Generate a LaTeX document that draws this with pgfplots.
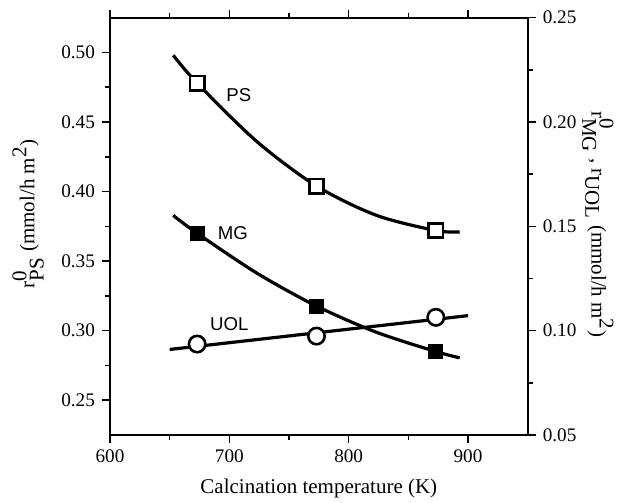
\documentclass[border=0pt]{standalone}
\usepackage{fontspec}
\setmainfont{Liberation Serif}
\newfontfamily\arialfont{Liberation Sans}
\usepackage{pgfplots}
\pgfplotsset{compat=1.18}

% measured points (K, rate)
\pgfplotstableread{
T    r
673  0.478
773  0.404
873  0.372
}\psdata
\pgfplotstableread{
T    r
653  0.498
673  0.478
723  0.436
773  0.404
823  0.383
873  0.372
893  0.371
}\pscurve
\pgfplotstableread{
T    r
673  0.1467
773  0.1118
873  0.0900
}\mgdata
\pgfplotstableread{
T    r
653  0.1552
673  0.1467
723  0.1276
773  0.1118
823  0.0993
873  0.0900
893  0.0870
}\mgcurve
\pgfplotstableread{
T    r
673  0.0936
773  0.0974
873  0.1064
}\uoldata
\pgfplotstableread{
T    r
650  0.0910
900  0.1072
}\uolcurve

\pgfplotsset{
  common/.style={
    scale only axis, width=208.85pt, height=208.65pt,
    xmin=600, xmax=950,
    tick align=outside,
    major tick length=4pt, minor tick length=2.5pt,
    every tick/.style={black, line width=0.8pt},
    axis line style={line width=1pt},
    /pgf/number format/assume math mode=true,
    ticklabel style={font=\fontsize{9.6}{11}\selectfont},
    label style={font=\fontsize{10.5}{12}\selectfont},
    yticklabel style={/pgf/number format/fixed, /pgf/number format/fixed zerofill, /pgf/number format/precision=2},
  },
}

\begin{document}
\begin{tikzpicture}
\begin{axis}[common,
  ymin=0.225, ymax=0.525,
  axis y line*=left,
  xtick={600,700,800,900}, minor x tick num=1,
  xtick pos=both,
  ytick={0.25,0.30,...,0.50}, minor y tick num=1,
  xlabel={Calcination temperature (K)},
  xlabel style={at={(axis description cs:0.5,-0.127)}, anchor=center},
  ylabel={r$^{\textrm{0}}_{\textrm{PS}}$ (mmol/h m$^{\textrm{2}}$)},
  ylabel style={at={(axis description cs:-0.196,0.53)}, anchor=center},
]
\addplot[black, line width=1.6pt, smooth, no marks] table[x=T,y=r] {\pscurve};
\addplot[only marks, mark=square*, mark size=3.6pt, mark options={fill=white, draw=black, line width=1.3pt}] table[x=T,y=r] {\psdata};
\node[font=\arialfont\fontsize{9.3}{11}\selectfont] at (axis cs:708,0.469) {PS};
\node[font=\arialfont\fontsize{9.3}{11}\selectfont] at (axis cs:703,0.3705) {MG};
\node[font=\arialfont\fontsize{9.3}{11}\selectfont] at (axis cs:700,0.3048) {UOL};
\end{axis}
\begin{axis}[common,
  ymin=0.05, ymax=0.25,
  axis y line*=right, axis x line=none,
  ytick={0.05,0.10,...,0.25}, minor y tick num=1,
  ylabel={r$^{\textrm{0}}_{\textrm{MG}}$ , r$_{\textrm{UOL}}$ (mmol/h m$^{\textrm{2}}$)},
  ylabel style={at={(axis description cs:1.168,0.505)}, anchor=center, rotate=180},
]
\addplot[black, line width=1.6pt, smooth, no marks] table[x=T,y=r] {\mgcurve};
\addplot[black, line width=1.6pt, no marks] table[x=T,y=r] {\uolcurve};
\addplot[only marks, mark=square*, mark size=3.5pt, mark options={fill=black, draw=black, line width=0.4pt}] table[x=T,y=r] {\mgdata};
\addplot[only marks, mark=*, mark size=4.1pt, mark options={fill=white, draw=black, line width=1.3pt}] table[x=T,y=r] {\uoldata};
\end{axis}
\pgfresetboundingbox
\path (-55pt,-34pt) rectangle (253.5pt,217.5pt);
\end{tikzpicture}
\end{document}
